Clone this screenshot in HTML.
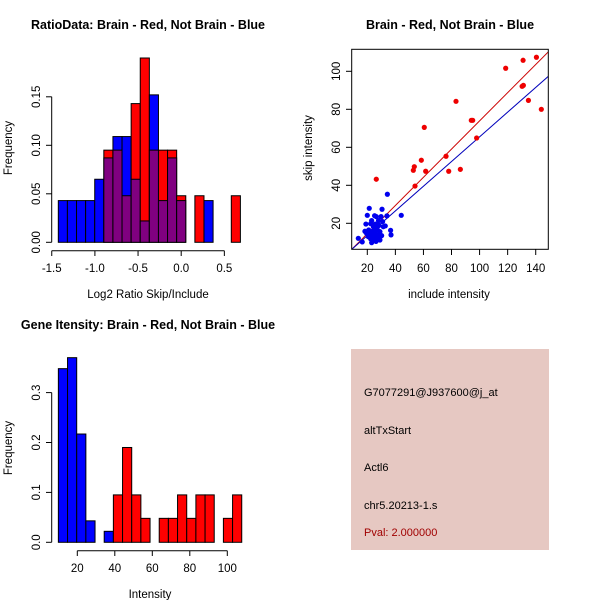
<!DOCTYPE html>
<html><head><meta charset="utf-8"><style>
body{margin:0;background:#fff}
svg{display:block;font-family:"Liberation Sans",sans-serif}
</style></head><body>
<svg id="c" width="600" height="600" xmlns="http://www.w3.org/2000/svg"></svg>
<script>
// ---- data: ratio histogram (shared bins) ----
const ratioBinStart = -1.424, ratioBinWidth = 0.1055;
const ratioBlue = [0.043,0.043,0.043,0.043,0.065,0.087,0.109,0.109,0.065,0.022,0.152,0.043,0.087,0.043,0,0,0.043,0,0,0];
const ratioRed  = [0,0,0,0,0,0.095,0.095,0.048,0.143,0.190,0.095,0.095,0.095,0.048,0,0.048,0,0,0,0.048];
const ratioXTicks = [-1.5,-1.0,-0.5,0.0,0.5];
const ratioXTickLabels = ["-1.5","-1.0","-0.5","0.0","0.5"];
const ratioYTicks = [0,0.05,0.10,0.15];
const ratioYTickLabels = ["0.00","0.05","0.10","0.15"];
// ---- data: scatter ----
const redInclude = [26.4,54,52.8,53.5,58.5,60.6,61.6,76.1,78,86.3,83.2,94.1,95.1,97.9,118.6,131,130.3,131.2,134.8,140.5,144];
const redSkip    = [43.2,39.6,47.9,49.8,53.2,70.5,47.4,55.3,47.4,48.4,84.2,74.2,74.2,64.9,101.6,105.8,92.1,92.6,84.7,107.4,80];
const blueInclude = [13.6,16.4,21.4,20,25.2,26.4,34.3,30.5,29.8,34,44.2,36.6,36.9,32.8,19,18.3,22.4,24.3,28.3,21,23.1,25.5,27.1,29,20.7,22.4,24.3,26.2,27.8,30.2,23.8,26.2,28.6,25.2,27.1,30.9,21.9,19.5,25.7,23.1,28,31.4,29,23.1];
const blueSkip    = [12.1,10.2,27.9,24.2,24,23.5,35.3,27.4,23.5,23.9,24.2,16.3,13.9,18.6,19.6,15.8,19.8,18.2,18.9,16.5,15.6,14.7,16.5,15.6,13,11.8,11.2,10.5,12.1,13.5,13.3,13,14.2,16.8,17.9,20.9,14.3,14.7,19.6,21.4,21.4,18.2,11.2,9.8];
const redFit = [0.742,-0.3];   // slope, intercept
const blueFit = [0.65,0.5];
const scXTicks = [20,40,60,80,100,120,140];
const scYTicks = [20,40,60,80,100];
// ---- data: intensity histogram ----
const intBinStart = 9.9, intBinWidth = 4.89;
const intBlue = [0.348,0.370,0.217,0.043,0,0.022,0,0,0,0,0,0,0,0,0,0,0,0,0,0];
const intRed  = [0,0,0,0,0,0,0.095,0.190,0.095,0.048,0,0.048,0.048,0.095,0.048,0.095,0.095,0,0.048,0.095];
const intXTicks = [20,40,60,80,100];
const intYTicks = [0,0.1,0.2,0.3];
const intYTickLabels = ["0.0","0.1","0.2","0.3"];
const infoLines = ["G7077291@J937600@j_at","altTxStart","Actl6","chr5.20213-1.s"];
const pvalText = "Pval: 2.000000";

const NS="http://www.w3.org/2000/svg";
const svg=document.getElementById('c');
const FS=11.5;
function el(tag,attrs,parent){const e=document.createElementNS(NS,tag);for(const k in attrs)e.setAttribute(k,attrs[k]);(parent||svg).appendChild(e);return e;}
function txt(s,attrs,parent){const e=el('text',attrs,parent);e.textContent=s;return e;}

// ===== Panel 1 =====
const p1=el('g',{});


const x1=v=>181.2+v*86.3, y1=v=>242.3-v*970;
for(let i=0;i<ratioBlue.length;i++){
  const a=ratioBinStart+i*ratioBinWidth, b=a+ratioBinWidth;
  const bl=ratioBlue[i], rd=ratioRed[i];
  const lo=Math.min(bl,rd), hi=Math.max(bl,rd);
  if(hi<=0)continue;
  const xa=x1(a), w=x1(b)-x1(a);
  if(hi>lo){
    const r=el('rect',{x:xa,y:y1(hi),width:w,height:y1(0)-y1(hi),fill:bl>rd?'#0000ff':'#ff0000',stroke:'#000','stroke-width':1},p1);
    
    
  }
  if(lo>0){
    const r=el('rect',{x:xa,y:y1(lo),width:w,height:y1(0)-y1(lo),fill:'#800080',stroke:'#000','stroke-width':1},p1);
    
    
  }
}
el('line',{x1:x1(-1.5),x2:x1(0.5),y1:250.7,y2:250.7,stroke:'#000'},p1);
ratioXTicks.forEach((t,i)=>{el('line',{x1:x1(t),x2:x1(t),y1:250.7,y2:256,stroke:'#000'},p1);
  txt(ratioXTickLabels[i],{x:x1(t),y:272,'font-size':FS,'text-anchor':'middle'},p1);});
el('line',{x1:51.7,x2:51.7,y1:y1(0),y2:y1(0.15),stroke:'#000'},p1);
ratioYTicks.forEach((t,i)=>{el('line',{x1:46,x2:51.7,y1:y1(t),y2:y1(t),stroke:'#000'},p1);
  txt(ratioYTickLabels[i],{x:0,y:0,'font-size':FS,'text-anchor':'middle',transform:`translate(40,${y1(t)}) rotate(-90)`},p1);});
let t1=txt('RatioData: Brain - Red, Not Brain - Blue',{x:148,y:29,'font-size':12.5,'font-weight':'bold','text-anchor':'middle'},p1);

txt('Log2 Ratio Skip/Include',{x:148,y:298,'font-size':FS,'text-anchor':'middle'},p1);
txt('Frequency',{x:0,y:0,'font-size':FS,'text-anchor':'middle',transform:'translate(12,148) rotate(-90)'},p1);

// ===== Panel 2 =====
const p2=el('g',{});


const x2=v=>367.3+(v-20)*1.4035, y2=v=>223.3-(v-20)*1.9;
const cp=el('clipPath',{id:'cp'},p2);el('rect',{x:351.7,y:49.3,width:196.6,height:200},cp);
[[redFit,'#cc0000'],[blueFit,'#0000bb']].forEach(([f,c])=>{
  const l=el('line',{x1:x2(5),y1:y2(f[0]*5+f[1]),x2:x2(155),y2:y2(f[0]*155+f[1]),stroke:c,'stroke-width':1,'clip-path':'url(#cp)'},p2);
  
});
blueInclude.forEach((v,i)=>{const c=el('circle',{cx:x2(v),cy:y2(blueSkip[i]),r:2.6,fill:'#0000ee'},p2);
  });
redInclude.forEach((v,i)=>{const c=el('circle',{cx:x2(v),cy:y2(redSkip[i]),r:2.6,fill:'#ee0000'},p2);
  });
el('rect',{x:351.7,y:49.3,width:196.6,height:200,fill:'none',stroke:'#000'},p2);
scXTicks.forEach(t=>{el('line',{x1:x2(t),x2:x2(t),y1:249.3,y2:255,stroke:'#000'},p2);
  txt(String(t),{x:x2(t),y:272,'font-size':FS,'text-anchor':'middle'},p2);});
scYTicks.forEach(t=>{el('line',{x1:346,x2:351.7,y1:y2(t),y2:y2(t),stroke:'#000'},p2);
  txt(String(t),{x:0,y:0,'font-size':FS,'text-anchor':'middle',transform:`translate(340,${y2(t)}) rotate(-90)`},p2);});
let t2=txt('Brain - Red, Not Brain - Blue',{x:450,y:29,'font-size':12.5,'font-weight':'bold','text-anchor':'middle'},p2);

txt('include intensity',{x:449,y:298,'font-size':FS,'text-anchor':'middle'},p2);
txt('skip intensity',{x:0,y:0,'font-size':FS,'text-anchor':'middle',transform:'translate(312,148) rotate(-90)'},p2);

// ===== Panel 3 =====
const p3=el('g',{});


const x3=v=>77.3+(v-20)*1.875, y3=v=>542.3-v*499;
for(let i=0;i<intBlue.length;i++){
  const a=intBinStart+i*intBinWidth,b=a+intBinWidth;
  [[intBlue[i],'#0000ff','blue'],[intRed[i],'#ff0000','red']].forEach(([v,c,n])=>{
    if(v<=0)return;
    const r=el('rect',{x:x3(a),y:y3(v),width:x3(b)-x3(a),height:y3(0)-y3(v),fill:c,stroke:'#000'},p3);
    
  });
}
el('line',{x1:x3(20),x2:x3(100),y1:550.7,y2:550.7,stroke:'#000'},p3);
intXTicks.forEach(t=>{el('line',{x1:x3(t),x2:x3(t),y1:550.7,y2:556,stroke:'#000'},p3);
  txt(String(t),{x:x3(t),y:572,'font-size':FS,'text-anchor':'middle'},p3);});
el('line',{x1:51.7,x2:51.7,y1:y3(0),y2:y3(0.3),stroke:'#000'},p3);
intYTicks.forEach((t,i)=>{el('line',{x1:46,x2:51.7,y1:y3(t),y2:y3(t),stroke:'#000'},p3);
  txt(intYTickLabels[i],{x:0,y:0,'font-size':FS,'text-anchor':'middle',transform:`translate(40,${y3(t)}) rotate(-90)`},p3);});
let t3=txt('Gene Itensity: Brain - Red, Not Brain - Blue',{x:148,y:329,'font-size':12.5,'font-weight':'bold','text-anchor':'middle'},p3);

txt('Intensity',{x:150,y:598,'font-size':FS,'text-anchor':'middle'},p3);
txt('Frequency',{x:0,y:0,'font-size':FS,'text-anchor':'middle',transform:'translate(12,448) rotate(-90)'},p3);

// ===== Panel 4 =====
const p4=el('g',{});


el('rect',{x:351,y:349,width:198,height:201,fill:'#e6c8c2'},p4);
const ys=[396,434,471,509];
infoLines.forEach((s,i)=>{const t=txt(s,{x:364,y:ys[i],'font-size':11,fill:'#000'},p4);
  });
const pv=txt(pvalText,{x:364,y:536,'font-size':11,fill:'#a00000'},p4);

</script>
</body></html>
